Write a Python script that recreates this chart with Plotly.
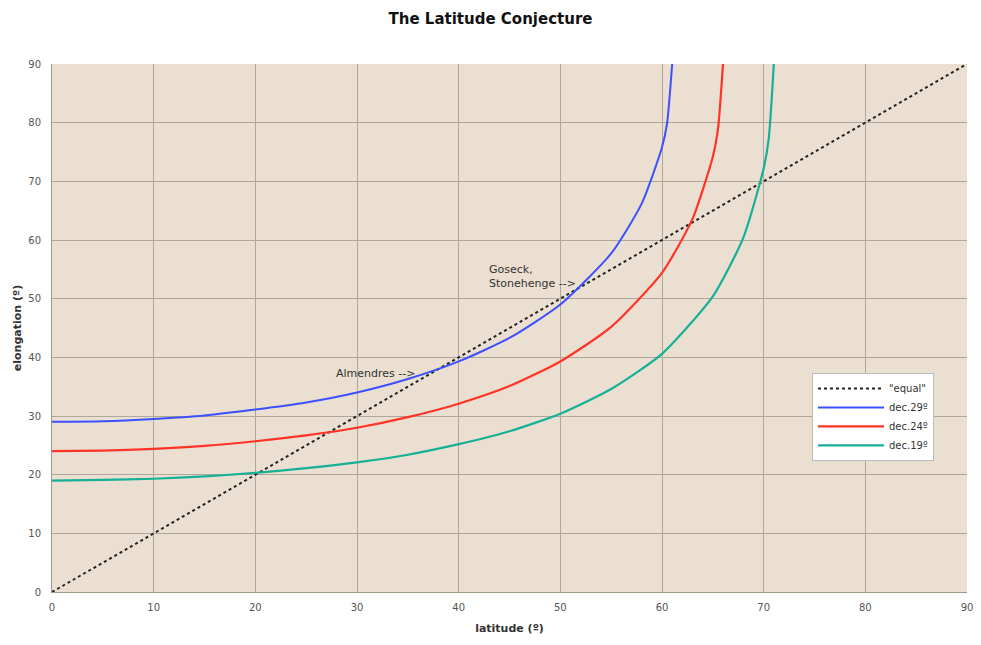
import plotly.graph_objects as go

# latitude (deg) and elongation (deg)
lat_equal = [0, 90]
elong_equal = [0, 90]

lat_d29 = [0, 5, 10, 15, 20, 25, 30, 35, 40, 45, 50, 55, 58, 60, 60.5, 61]
elong_d29 = [29.0, 29.1, 29.5, 30.1, 31.1, 32.3, 34.0, 36.3, 39.3, 43.3, 49.0, 57.7, 66.2, 75.8, 79.9, 90]

lat_d24 = [0, 5, 10, 15, 20, 25, 30, 35, 40, 45, 50, 55, 60, 63, 65, 65.5, 66]
elong_d24 = [24.0, 24.1, 24.4, 24.9, 25.7, 26.7, 28.0, 29.8, 32.1, 35.1, 39.3, 45.2, 54.4, 63.6, 74.2, 78.8, 90]

lat_d19 = [0, 5, 10, 15, 20, 25, 30, 35, 40, 45, 50, 55, 60, 65, 68, 70, 70.5, 71]
elong_d19 = [19.0, 19.1, 19.3, 19.7, 20.3, 21.1, 22.1, 23.4, 25.2, 27.4, 30.4, 34.6, 40.6, 50.4, 60.4, 72.2, 77.3, 90]

tick_vals = [0, 10, 20, 30, 40, 50, 60, 70, 80, 90]

FONT = "DejaVu Sans"

fig = go.Figure()
fig.add_trace(go.Scatter(x=lat_equal, y=elong_equal, mode="lines", name='"equal"',
                         line=dict(color="#222222", width=2, dash="dot")))
fig.add_trace(go.Scatter(x=lat_d29, y=elong_d29, mode="lines", name="dec.29º",
                         line=dict(color="#3c50ff", width=2, shape="spline", smoothing=0.6)))
fig.add_trace(go.Scatter(x=lat_d24, y=elong_d24, mode="lines", name="dec.24º",
                         line=dict(color="#ff3328", width=2.2, shape="spline", smoothing=0.6)))
fig.add_trace(go.Scatter(x=lat_d19, y=elong_d19, mode="lines", name="dec.19º",
                         line=dict(color="#16b096", width=2.2, shape="spline", smoothing=0.6)))

fig.add_annotation(x=31.8, y=37.2, text="Almendres -->", showarrow=False,
                   font=dict(family=FONT, size=11, color="#333333"))
fig.add_annotation(x=42.8, y=53.8, text="Goseck,<br>Stonehenge -->", showarrow=False,
                   xanchor="left", align="left",
                   font=dict(family=FONT, size=11, color="#333333"))

# the page body adds an 8px offset, so the figure is sized to fit inside it
fig.update_layout(
    width=965, height=629,
    margin=dict(l=44, r=6, t=56, b=45, autoexpand=False),
    paper_bgcolor="white",
    plot_bgcolor="#eadfd0",
    title=dict(text="<b>The Latitude Conjecture</b>", x=0.5, xanchor="center",
               y=0.992, yanchor="top", pad=dict(t=0, b=0), automargin=False,
               font=dict(family=FONT, size=15, color="#111111")),
    font=dict(family=FONT, size=10, color="#555555"),
    showlegend=True,
    legend=dict(x=0.8306, y=0.415, xanchor="left", yanchor="top",
                bgcolor="white", bordercolor="#bbbbbb", borderwidth=1,
                font=dict(family=FONT, size=10, color="#333333"),
                itemwidth=66, tracegroupgap=2),
    xaxis=dict(range=[0, 90], tickvals=tick_vals, showgrid=True, gridcolor="#b0a79c",
               gridwidth=1, zeroline=False, showline=True, linecolor="#a09888", mirror=False,
               ticks="outside", ticklen=6, tickcolor="rgba(0,0,0,0)", automargin=False,
               ticklabeloverflow="allow",
               tickfont=dict(family=FONT, size=10, color="#555555"),
               title=dict(text="<b>latitude (º)</b>", font=dict(family=FONT, size=11, color="#333333"),
                          standoff=12)),
    yaxis=dict(range=[0, 90], tickvals=tick_vals, showgrid=True, gridcolor="#b0a79c",
               gridwidth=1, zeroline=False, showline=True, linecolor="#a09888", mirror=False,
               ticks="outside", ticklen=8, tickcolor="rgba(0,0,0,0)", automargin=False,
               ticklabeloverflow="allow",
               tickfont=dict(family=FONT, size=10, color="#555555"),
               title=dict(text="<b>elongation (º)</b>", font=dict(family=FONT, size=11, color="#333333"),
                          standoff=4)),
)

fig.write_html("out.html")
